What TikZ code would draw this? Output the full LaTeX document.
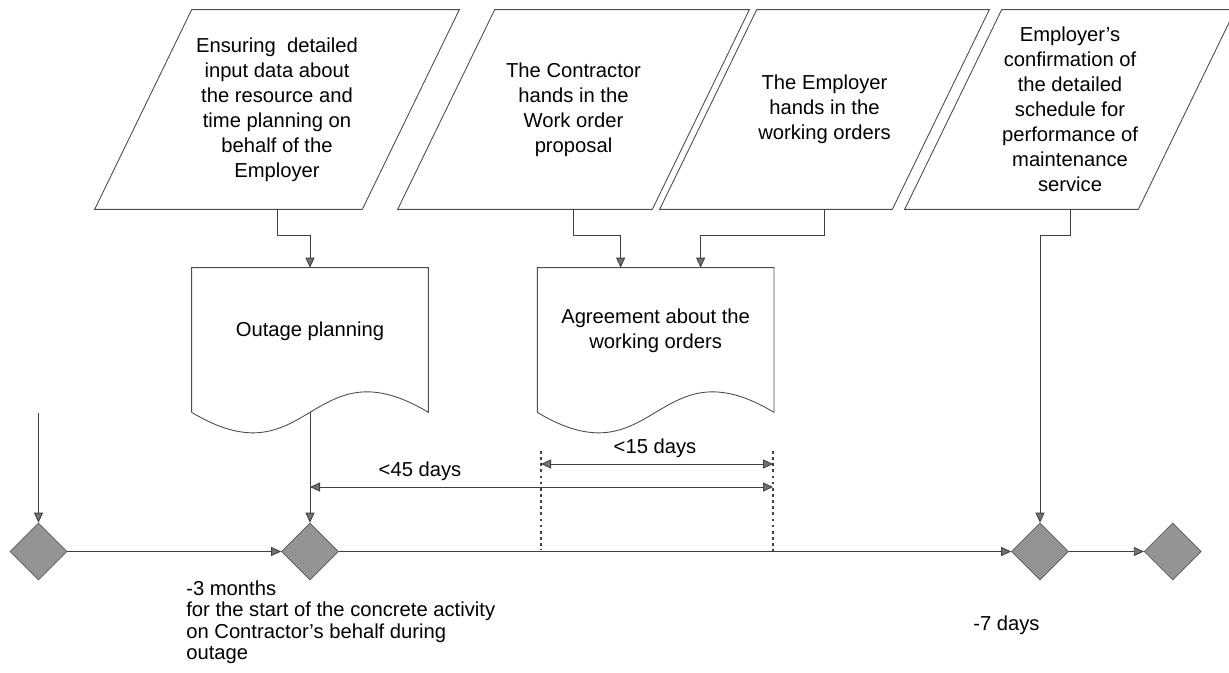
\documentclass[tikz,border=0pt]{standalone}
\usepackage{fontspec}
\setmainfont{Liberation Sans}
\usetikzlibrary{positioning,calc,shapes.geometric,arrows.meta}
\tikzset{
inputbox/.style={minimum height=3.98cm,inner sep=0pt,align=center},
docbox/.style={minimum width=4.72cm,minimum height=2.88cm,inner sep=0pt,align=center,text depth=0.45cm},
milestone/.style={diamond,draw=black!65,fill=black!42,minimum width=1.14cm,minimum height=1.14cm,inner sep=0pt},
outline/.style={draw=black!70,line width=0.5pt},
flowarrow/.style={-{Triangle[length=2mm,width=1.8mm,fill=black!55]},black!75,line width=0.5pt},
dimarrow/.style={{Triangle[length=2mm,width=1.8mm,fill=black!55]}-{Triangle[length=2mm,width=1.8mm,fill=black!55]},black!75,line width=0.5pt},
guide/.style={black!75,dash pattern=on 1.5pt off 2pt,line width=0.6pt},
explain/.style={font=\fontsize{11.5}{12.3}\selectfont,align=left,inner sep=0pt}
}
\begin{document}
\begin{tikzpicture}[x=0.02cm,y=-0.02cm,every node/.style={font=\fontsize{11.5}{14.2}\selectfont}]
\useasboundingbox (0,0) rectangle (1229,672);
\node[inputbox,minimum width=3.4cm] (inA) at (277,109.5) {Ensuring\ \ detailed\\input data about\\the resource and\\time planning on\\behalf of the\\Employer};
\node[inputbox,minimum width=3.14cm] (inB) at (573.5,109.5) {The Contractor\\hands in the\\Work order\\proposal};
\node[inputbox,minimum width=2.7cm] (inC) at (824.5,109.5) {The Employer\\hands in the\\working orders};
\node[inputbox,minimum width=2.72cm] (inD) at (1070,109.5) {Employer's\\confirmation of\\the detailed\\schedule for\\performance of\\maintenance\\service};
\foreach \p in {inA,inB,inC,inD}
  \draw[outline] ([xshift=-1.94cm]\p.south west) -- (\p.south east) -- ([xshift=1.94cm]\p.north east) -- (\p.north west) -- cycle;
\node[docbox] (outage) at (310,340) {Outage planning};
\node[docbox,right=2.18cm of outage] (agree) {Agreement about the\\working orders};
\foreach \d in {outage,agree}
  \draw[outline] (\d.south west) -- (\d.north west) -- (\d.north east) -- (\d.south east) .. controls +(-118,-71) and +(118,71) .. (\d.south west);
\node[milestone] (ms1) at (38.5,551.5) {};
\node[milestone] (ms2) at (310,551.5) {};
\node[milestone] (ms3) at (1040,551.5) {};
\node[milestone,right=1.5cm of ms3] (ms4) {};
\coordinate (feed) at (38.5,413);
\draw[flowarrow] (feed) -- (ms1);
\draw[flowarrow] (ms1) -- (ms2);
\draw[flowarrow] (ms2) -- (ms3);
\draw[flowarrow] (ms3) -- (ms4);
\draw[flowarrow] (inA.south) -- ++(0,26) -| (outage.north);
\draw[flowarrow] (inB.south) -- ++(0,26) -| ([xshift=-0.7cm]agree.north);
\draw[flowarrow] (inC.south) -- ++(0,26) -| ([xshift=0.9cm]agree.north);
\draw[flowarrow] (inD.south) -- ++(0,26) -| (ms3.north);
\draw[flowarrow] (outage.south) -- (ms2.north);
\coordinate (g1) at (541,451);
\coordinate (g1b) at (541,550);
\coordinate (g2) at (773,451);
\coordinate (g2b) at (773,552);
\coordinate (w15a) at (541,464);
\coordinate (w15b) at (773,464);
\coordinate (w45a) at (310,487);
\coordinate (w45b) at (773,487);
\draw[guide] (g1) -- (g1b);
\draw[guide] (g2) -- (g2b);
\draw[dimarrow] (w15a) -- (w15b);
\draw[dimarrow] (w45a) -- (w45b);
\node (lab15) at (655,448) {<15 days};
\node (lab45) at (420,471) {<45 days};
\node[explain,anchor=north west] (note3m) at (186,580) {-3 months\\for the start of the concrete activity\\on Contractor's behalf during\\outage};
\node[explain,anchor=west] (note7d) at (973,625) {-7 days};
\end{tikzpicture}
\end{document}
